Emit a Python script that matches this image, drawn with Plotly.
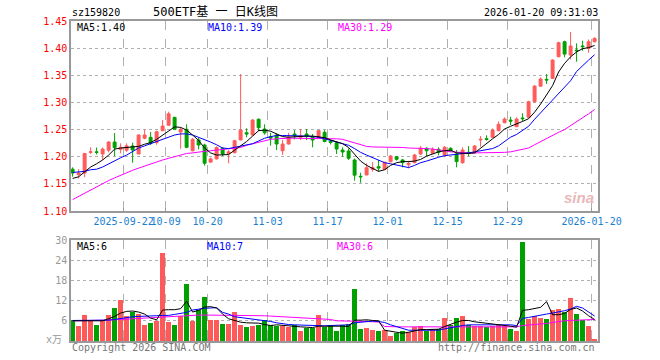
import plotly.graph_objects as go

# ---------------- data ----------------
idx = list(range(88))
opens = [1.177,1.167,1.170,1.208,1.209,1.205,1.212,1.227,1.2136,1.212,
         1.2197,1.205,1.234,1.2357,1.226,1.248,1.258,1.2725,1.2455,1.2505,
         1.211,1.2308,1.2215,1.190,1.196,1.2155,1.206,1.2074,1.231,1.2442,
         1.240,1.269,1.251,1.2368,1.240,1.211,1.2234,1.2418,1.2357,1.2418,
         1.2357,1.2357,1.245,1.2283,1.2258,1.2123,1.2105,1.194,1.164,1.1663,
         1.1768,1.1816,1.1768,1.1908,1.200,1.194,1.1853,1.189,1.205,1.2155,
         1.2063,1.2136,1.2031,1.2155,1.205,1.189,1.2081,1.2074,1.2308,1.2333,
         1.2357,1.248,1.2626,1.2676,1.2553,1.2713,1.2726,1.3013,1.330,1.3425,
         1.3444,1.3842,1.4118,1.3873,1.3965,1.404,1.3996,1.4118]
closes = [1.170,1.170,1.206,1.209,1.208,1.214,1.227,1.2166,1.2173,1.220,
          1.2123,1.240,1.240,1.2247,1.246,1.2565,1.279,1.2505,1.2505,1.2173,
          1.232,1.2215,1.188,1.196,1.217,1.205,1.209,1.2295,1.249,1.2418,
          1.2676,1.2535,1.244,1.2344,1.2234,1.2234,1.2357,1.239,1.2381,1.2381,
          1.2308,1.248,1.228,1.2265,1.2142,1.2087,1.197,1.166,1.163,1.1797,
          1.1797,1.1792,1.1897,1.2013,1.1952,1.189,1.1878,1.2031,1.2155,1.211,
          1.2136,1.2081,1.2173,1.211,1.191,1.2123,1.2068,1.2197,1.232,1.232,
          1.249,1.2597,1.2694,1.2656,1.2694,1.270,1.3013,1.330,1.343,1.3413,
          1.378,1.410,1.389,1.404,1.3952,1.4027,1.4118,1.418]
highs = [1.1805,1.177,1.207,1.2173,1.217,1.217,1.2285,1.2436,1.2247,1.2247,
         1.2258,1.241,1.2505,1.2455,1.2479,1.2676,1.2829,1.2735,1.254,1.2597,
         1.2345,1.2345,1.224,1.1985,1.219,1.2173,1.2123,1.231,1.3523,1.2523,
         1.269,1.2705,1.2597,1.244,1.243,1.2308,1.244,1.249,1.251,1.251,
         1.2418,1.249,1.249,1.2308,1.2277,1.2173,1.2155,1.1968,1.1705,1.1878,
         1.190,1.1939,1.1908,1.2031,1.2013,1.196,1.1926,1.205,1.2197,1.2173,
         1.2173,1.2173,1.2197,1.2173,1.2123,1.2173,1.2197,1.2215,1.2381,1.2395,
         1.252,1.265,1.2725,1.2737,1.2726,1.280,1.303,1.3321,1.346,1.3523,
         1.3795,1.4118,1.4137,1.430,1.4088,1.4137,1.416,1.420]
lows = [1.163,1.160,1.162,1.205,1.204,1.194,1.208,1.201,1.2063,1.209,
        1.189,1.205,1.232,1.2215,1.222,1.247,1.257,1.249,1.2147,1.2155,
        1.2098,1.2135,1.1834,1.1897,1.195,1.2013,1.1878,1.2062,1.230,1.2357,
        1.2395,1.247,1.2405,1.2203,1.2123,1.2031,1.2225,1.232,1.2308,1.2308,
        1.2173,1.2345,1.2265,1.2225,1.205,1.200,1.194,1.1558,1.152,1.1663,
        1.1724,1.1724,1.1758,1.1897,1.1926,1.1805,1.1786,1.1878,1.2031,1.2013,
        1.2045,1.2025,1.199,1.209,1.1805,1.187,1.201,1.2062,1.2185,1.2295,
        1.2345,1.247,1.2616,1.2584,1.2545,1.2655,1.2716,1.3003,1.329,1.3339,
        1.343,1.3831,1.3831,1.3794,1.375,1.3952,1.3916,1.4105]
volumes = [6.37,4.38,7.66,5.96,4.68,6.17,7.66,9.83,12.12,7.36,
           8.64,7.95,4.68,5.36,5.96,26.2,5.66,4.68,7.36,16.9,
           5.96,9.15,13.1,6.17,6.17,4.97,4.97,8.64,4.68,4.17,
           4.38,4.68,6.17,4.68,4.38,4.38,4.17,4.68,2.98,3.98,
           3.98,7.66,4.17,4.68,2.98,4.68,4.97,15.4,3.49,3.78,
           3.19,2.98,3.19,1.40,2.38,2.98,2.68,4.17,4.38,2.98,
           3.69,3.69,6.97,4.68,6.97,7.36,4.68,4.38,4.38,4.17,
           4.38,4.68,4.38,3.69,2.98,29.4,6.67,7.36,6.97,6.67,
           9.15,9.44,8.64,12.9,7.95,6.37,4.38,0.5]
ma5 = [1.160,1.163,1.172,1.181,1.187,1.194,1.203,1.214,1.216,1.217,
       1.217,1.219,1.223,1.226,1.232,1.240,1.248,1.255,1.254,1.249,
       1.240,1.230,1.216,1.207,1.203,1.203,1.204,1.212,1.220,1.228,
       1.238,1.248,1.249,1.247,1.242,1.237,1.236,1.237,1.237,1.238,
       1.238,1.237,1.235,1.231,1.228,1.224,1.217,1.205,1.192,1.184,
       1.179,1.173,1.176,1.184,1.189,1.191,1.191,1.192,1.195,1.201,
       1.205,1.209,1.211,1.212,1.207,1.206,1.206,1.207,1.216,1.224,
       1.233,1.241,1.251,1.256,1.260,1.265,1.270,1.282,1.297,1.315,
       1.331,1.356,1.372,1.384,1.393,1.399,1.401,1.405]
ma10 = [1.171,1.172,1.173,1.176,1.177,1.181,1.187,1.192,1.198,1.203,
        1.209,1.216,1.220,1.224,1.229,1.232,1.236,1.240,1.242,1.242,
        1.240,1.236,1.231,1.227,1.222,1.216,1.215,1.217,1.220,1.222,
        1.224,1.229,1.234,1.237,1.239,1.239,1.239,1.239,1.238,1.238,
        1.237,1.236,1.233,1.230,1.228,1.225,1.221,1.215,1.208,1.203,
        1.198,1.193,1.189,1.187,1.185,1.183,1.180,1.184,1.189,1.192,
        1.196,1.199,1.202,1.203,1.205,1.206,1.207,1.209,1.211,1.213,
        1.215,1.220,1.228,1.236,1.241,1.248,1.256,1.269,1.281,1.292,
        1.304,1.317,1.329,1.340,1.357,1.368,1.378,1.388]
ma30 = [1.121,1.127,1.133,1.139,1.145,1.150,1.156,1.161,1.166,1.171,
        1.175,1.179,1.183,1.187,1.190,1.194,1.197,1.200,1.203,1.206,
        1.207,1.209,1.210,1.211,1.212,1.213,1.214,1.215,1.217,1.221,
        1.224,1.227,1.230,1.232,1.233,1.234,1.234,1.234,1.234,1.234,
        1.234,1.234,1.234,1.233,1.233,1.232,1.229,1.226,1.222,1.219,
        1.218,1.218,1.218,1.218,1.217,1.217,1.216,1.216,1.215,1.215,
        1.214,1.213,1.211,1.209,1.208,1.207,1.207,1.207,1.207,1.207,
        1.207,1.207,1.208,1.209,1.211,1.213,1.216,1.222,1.228,1.234,
        1.239,1.245,1.250,1.257,1.264,1.271,1.279,1.287]
vma5 = [6.0,6.0,6.0,6.0,6.0,6.0,6.6,7.3,8.3,8.8,
        8.9,8.6,8.0,6.8,6.3,9.2,9.3,9.3,9.6,11.8,
        8.6,9.1,10.1,10.2,9.8,8.0,6.6,6.0,5.6,5.4,
        5.4,5.3,4.9,4.6,4.8,4.6,4.4,4.3,4.2,4.1,
        4.0,4.4,4.4,4.6,4.5,4.4,4.3,6.2,6.2,6.3,
        6.1,6.0,3.2,2.9,2.7,2.3,2.6,3.0,3.4,3.4,
        3.5,3.5,4.3,5.0,5.6,6.1,6.1,5.7,5.5,5.3,
        5.2,5.0,4.8,4.4,4.1,9.1,9.3,9.6,10.0,11.7,
        7.8,7.8,8.2,9.4,9.8,8.9,7.5,6.4]
vma10 = [6.1,6.1,6.1,6.1,6.1,6.1,6.2,6.4,6.7,7.0,
         7.2,7.3,7.3,7.4,7.5,7.6,7.6,7.9,8.2,8.5,
         9.2,9.5,9.7,9.8,9.9,8.5,8.0,7.2,7.0,6.8,
         6.5,6.3,6.1,5.8,5.4,5.1,4.9,4.8,4.7,4.6,
         4.5,4.5,4.5,4.6,4.6,4.7,4.8,5.4,5.6,5.9,
         5.9,5.8,5.5,4.8,4.3,3.6,3.2,3.2,3.2,3.2,
         3.2,3.2,3.6,4.0,4.3,4.6,4.8,4.8,4.8,4.9,
         4.9,4.9,4.9,4.8,4.6,6.7,7.0,7.4,7.6,8.0,
         8.3,8.6,9.0,9.5,10.3,9.8,8.5,7.4]
vma30 = [6.0,6.0,6.1,6.1,6.1,6.2,6.2,6.3,6.4,6.5,
         6.6,6.7,6.8,6.9,7.0,7.3,7.4,7.4,7.5,7.6,
         7.6,7.7,7.7,7.7,7.7,7.7,7.7,7.7,7.7,7.6,
         7.6,7.6,7.5,7.4,7.3,7.2,7.1,7.0,6.9,6.8,
         6.7,6.6,6.5,6.4,6.0,6.0,5.9,5.9,5.8,5.8,
         5.7,5.6,4.3,4.2,4.2,4.2,4.2,4.2,4.2,4.2,
         4.2,4.2,4.2,4.2,4.2,4.2,4.2,4.2,4.2,4.2,
         4.2,4.2,4.2,4.2,4.2,4.6,4.7,4.8,5.0,5.2,
         5.5,5.8,6.0,6.1,6.2,6.3,6.3,6.4]
tick_idx = [9,16,23,33,43,53,63,73,87]
tick_labels = ["2025-09-22","10-09","10-20","11-03","11-17","12-01","12-15","12-29","2026-01-20"]
price_ticks = [1.10,1.15,1.20,1.25,1.30,1.35,1.40,1.45]
vol_ticks = [6,12,18,24,30]

RED = "#ff5a5a"
GREEN = "#00a000"
MONO = "DejaVu Sans Mono, Noto Sans CJK SC, monospace"

fig = go.Figure()
fig.add_trace(go.Candlestick(
    x=idx, open=opens, high=highs, low=lows, close=closes,
    increasing=dict(line=dict(color=RED, width=1), fillcolor=RED),
    decreasing=dict(line=dict(color=GREEN, width=1), fillcolor=GREEN),
    whiskerwidth=0, xaxis="x", yaxis="y", showlegend=False, hoverinfo="skip"))
for arr, col in [(ma30, "#ff00ff"), (ma10, "#0000ff"), (ma5, "#000000")]:
    fig.add_trace(go.Scatter(x=idx, y=arr, mode="lines", line=dict(color=col, width=1),
                             xaxis="x", yaxis="y", showlegend=False, hoverinfo="skip"))

vcolors = [RED if c >= o else GREEN for o, c in zip(opens, closes)]
fig.add_trace(go.Bar(x=idx, y=volumes, marker=dict(color=vcolors, line=dict(width=0)),
                     width=0.76, xaxis="x2", yaxis="y2", showlegend=False, hoverinfo="skip"))
for arr, col in [(vma30, "#ff00ff"), (vma10, "#0000ff"), (vma5, "#000000")]:
    fig.add_trace(go.Scatter(x=idx, y=arr, mode="lines", line=dict(color=col, width=1),
                             xaxis="x2", yaxis="y2", showlegend=False, hoverinfo="skip"))

xr = [-0.27, 87.57]
tickpos = [t - 0.5 for t in tick_idx]
common_x = dict(range=xr, showline=True, mirror=True, linecolor="#999999", linewidth=1.5,
                tickvals=tickpos, showgrid=True, gridcolor="#b0b0b0", griddash="dash",
                gridwidth=1, zeroline=False, ticks="inside", ticklen=3, tickcolor="#999999",
                fixedrange=True, tickangle=0)
fig.update_layout(
    width=660, height=360,
    margin=dict(l=71, r=62, t=21, b=19),
    paper_bgcolor="white", plot_bgcolor="white",
    bargap=0,
    xaxis=dict(**common_x, ticktext=tick_labels, anchor="y", rangeslider=dict(visible=False),
               tickfont=dict(family=MONO, size=10, color="#1a7fd0")),
    xaxis2=dict(**common_x, ticktext=[""] * len(tickpos), anchor="y2", matches="x",
                showticklabels=False),
    yaxis=dict(domain=[0.40625, 1.0], range=[1.10, 1.45], tickvals=price_ticks,
               ticktext=[f"{v:.2f}" for v in price_ticks],
               tickfont=dict(family=MONO, size=10, color="#ff0000"),
               showline=True, mirror=True, linecolor="#999999", linewidth=1.5,
               showgrid=True, gridcolor="#b0b0b0", griddash="dot", zeroline=False,
               ticks="", fixedrange=True, anchor="x"),
    yaxis2=dict(domain=[0.0, 0.3156], range=[0, 30], tickvals=vol_ticks,
                ticktext=[str(v) for v in vol_ticks],
                tickfont=dict(family=MONO, size=10, color="#999999"),
                showline=True, mirror=True, linecolor="#999999", linewidth=1.5,
                showgrid=True, gridcolor="#b0b0b0", griddash="dot", zeroline=False,
                ticks="", fixedrange=True, anchor="x2"),
)

def txt(x, y, s, color="#000000", size=10, anchor="left", fam=MONO):
    fig.add_annotation(x=x, y=y, xref="paper", yref="paper", text=s, showarrow=False,
                       xanchor=anchor, yanchor="middle",
                       font=dict(family=fam, size=size, color=color))

W, H = 527.0, 320.0
def px(xp): return (xp - 71) / W
def py(yp): return (341 - yp) / H

txt(px(70), py(12), "sz159820")
txt(px(151), py(12), "500ETF基 一 日K线图", size=12)
txt(px(600), py(12), "2026-01-20 09:31:03", anchor="right")
txt(px(75), py(27), "MA5:1.40")
txt(px(206), py(27), "MA10:1.39", color="#0000ff")
txt(px(336), py(27), "MA30:1.29", color="#ff00ff")
txt(px(75), py(246), "MA5:6")
txt(px(205), py(246), "MA10:7", color="#0000ff")
txt(px(335), py(246), "MA30:6", color="#ff00ff")
txt(px(64), py(339), "x万", color="#999999", anchor="right")
txt(px(70), py(347), "Copyright 2026 SINA.COM", color="#777777")
txt(px(597), py(347), "http://finance.sina.com.cn", color="#777777", anchor="right")
txt(px(596), py(197), "<b><i>sina</i></b>", color="#e8b8b8", size=15, anchor="right",
    fam="Liberation Sans, Arial, sans-serif")

fig.write_html("out.html")
